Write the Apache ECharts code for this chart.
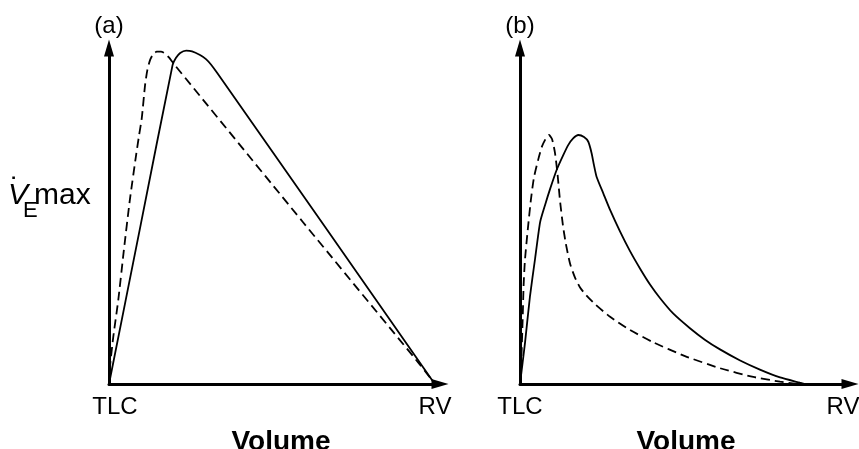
<!DOCTYPE html>
<html>
<head>
<meta charset="utf-8">
<script src="https://cdn.jsdelivr.net/npm/echarts@6/dist/echarts.min.js"></script>
<style>html,body{margin:0;padding:0;background:#fff}#c{width:859px;height:449px}</style>
</head>
<body>
<div id="c"></div>
<script>
// Panel (a): relative volume (0 = TLC, RV ~ 98) vs relative maximal flow (0-100)
const aSolidX = [0, 9.6, 19.2, 20.2, 21.5, 23.3, 25.1, 27.5, 29.3, 30.8, 32.6, 65.3, 98.0, 98.5];
const aSolidY = [0, 47.5, 94.9, 97.0, 98.5, 99.2, 99.0, 97.9, 96.7, 95.1, 92.7, 46.7, 0.6, 0];
const aDashX = [0, 0.3, 1.3, 2.8, 4.5, 6.3, 8.2, 9.1, 9.9, 10.9, 11.6, 12.4, 13.3, 14.4, 15.7, 16.9, 18.1, 19.4, 58.5, 94.0, 97.9, 98.5];
const aDashY = [0, 5.2, 14.1, 25.0, 39.9, 54.8, 68.2, 74.1, 79.1, 89.0, 93.5, 96.4, 98.1, 98.9, 98.9, 98.4, 97.2, 95.5, 48.3, 5.7, 0.7, 0];
// Panel (b)
const bSolidX = [0, 1.5, 3.0, 4.6, 6.1, 7.6, 9.1, 11.1, 13.0, 14.6, 16.1, 17.7, 19.4, 20.7, 21.7, 22.4, 23.2, 25.3, 27.3, 30.3, 33.3, 36.4, 39.4, 42.4, 46.4, 51.5, 56.0, 60.6, 66.7, 72.7, 78.8, 84.8, 86.4];
const bSolidY = [0, 12.1, 25.9, 37.5, 48.2, 53.3, 58.0, 63.7, 67.9, 71.1, 73.1, 74.1, 73.5, 72.1, 68.7, 65.2, 61.7, 56.6, 51.8, 45.4, 39.6, 34.3, 29.6, 25.6, 21.0, 16.6, 13.2, 10.3, 7.0, 4.3, 1.95, 0.4, 0];
const bDashX = [0, 0.4, 0.8, 1.1, 1.5, 2.4, 3.3, 4.2, 5.5, 6.7, 7.9, 8.8, 9.7, 10.6, 11.4, 12.1, 13.0, 13.9, 15.2, 16.7, 18.2, 20.0, 22.7, 27.3, 33.3, 40.4, 50.0, 60.6, 70.7, 78.8, 83.9];
const bDashY = [0, 7.1, 19.1, 29.5, 36.9, 46.4, 54.8, 61.3, 66.7, 70.8, 73.2, 74.1, 72.9, 68.8, 62.2, 54.8, 47.3, 41.7, 35.7, 31.6, 28.7, 26.5, 23.8, 20.0, 16.1, 12.4, 8.3, 4.7, 2.1, 0.7, 0];

const xTickLabels = ['TLC', 'RV'];
const aTickValues = [1.8, 98.5];
const bTickValues = [0, 97.9];
const panelNames = ['(a)', '(b)'];
const xName = 'Volume';

const FONT = '"Liberation Sans", Arial, Helvetica, sans-serif';
const zip = (xs, ys) => xs.map((x, i) => [x, ys[i]]);

function xAxisOf(idx, ticks, namePad) {
  return {
    type: 'value', gridIndex: idx, min: 0, max: 100,
    axisLine: { show: true, onZero: false, symbol: ['none', 'triangle'], symbolSize: [10, 17],
      lineStyle: { color: '#000', width: 3 } },
    axisTick: { show: false }, splitLine: { show: false },
    axisLabel: {
      show: true, customValues: ticks, margin: 11, color: '#000', fontSize: 24, fontFamily: FONT,
      formatter: v => xTickLabels[ticks.indexOf(v)] || ''
    },
    name: xName, nameLocation: 'middle', nameGap: 44,
    nameTextStyle: { color: '#000', fontSize: 28, fontWeight: 'bold', fontFamily: FONT, padding: namePad }
  };
}
function yAxisOf(idx) {
  return {
    type: 'value', gridIndex: idx, min: 0, max: 100,
    axisLine: { show: true, onZero: false, symbol: ['none', 'triangle'], symbolSize: [10, 17],
      lineStyle: { color: '#000', width: 3 } },
    axisTick: { show: false }, splitLine: { show: false }, axisLabel: { show: false },
    name: panelNames[idx], nameLocation: 'end', nameGap: 10,
    nameTextStyle: { color: '#000', fontSize: 24, fontFamily: FONT }
  };
}
function lineSeries(idx, data, dashed) {
  return {
    type: 'line', xAxisIndex: idx, yAxisIndex: idx, data: data,
    showSymbol: false, smooth: 0.2, silent: true, z: 1,
    lineStyle: { color: '#000', width: 1.8, type: dashed ? [9, 5] : 'solid' }
  };
}

const chart = echarts.init(document.getElementById('c'), null, { renderer: 'canvas' });
chart.setOption({
  backgroundColor: '#fff',
  animation: false,
  grid: [
    { left: 109, top: 48, width: 331, height: 336, containLabel: false, outerBoundsMode: 'none' },
    { left: 520, top: 48, width: 330, height: 336, containLabel: false, outerBoundsMode: 'none' }
  ],
  xAxis: [xAxisOf(0, aTickValues, [0, 0, 0, 13]), xAxisOf(1, bTickValues, [0, 0, 0, 2])],
  yAxis: [yAxisOf(0), yAxisOf(1)],
  series: [
    lineSeries(0, zip(aSolidX, aSolidY), false),
    lineSeries(0, zip(aDashX, aDashY), true),
    lineSeries(1, zip(bSolidX, bSolidY), false),
    lineSeries(1, zip(bDashX, bDashY), true)
  ],
  graphic: [
    { type: 'text', x: 8, y: 195.6, style: { text: 'V', font: 'italic 30px ' + FONT, fill: '#000', align: 'left', verticalAlign: 'middle' } },
    { type: 'text', x: 15, y: 189.5, style: { text: '\u02D9', font: '30px ' + FONT, fill: '#000', align: 'center', verticalAlign: 'middle' } },
    { type: 'text', x: 23, y: 211.4, style: { text: 'E', font: '22px ' + FONT, fill: '#000', align: 'left', verticalAlign: 'middle' } },
    { type: 'text', x: 34, y: 195.6, style: { text: 'max', font: '30px ' + FONT, fill: '#000', align: 'left', verticalAlign: 'middle' } }
  ]
});
</script>
</body>
</html>
